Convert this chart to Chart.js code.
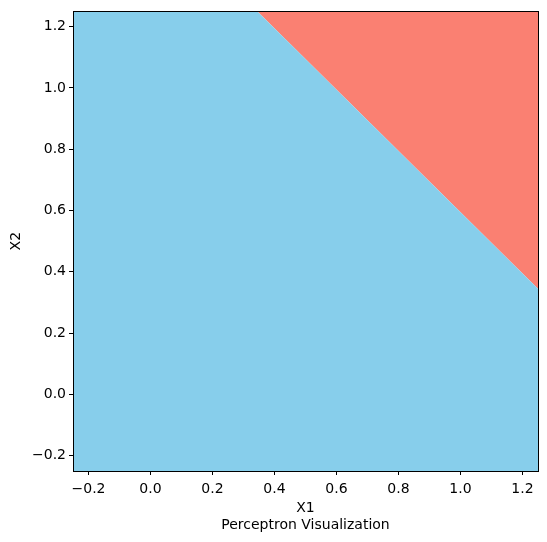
<!DOCTYPE html>
<html>
<head>
<meta charset="utf-8">
<script src="https://cdn.jsdelivr.net/npm/chart.js@4/dist/chart.umd.min.js"></script>
<style>
  html, body { margin: 0; padding: 0; background: #fff; }
  #wrap { width: 547px; height: 542px; }
</style>
</head>
<body>
<div id="wrap"><canvas id="chart"></canvas></div>
<script>
// decision boundary of the perceptron
const boundaryX = [-0.25, 0.345, 1.25];
const boundaryY = [1.25, 1.25, 0.345];

const tickValues = [-0.2, 0.0, 0.2, 0.4, 0.6, 0.8, 1.0, 1.2];
const axisMin = -0.25;
const axisMax = 1.25;

const boundary = boundaryX.map((x, i) => ({ x: x, y: boundaryY[i] }));

const fmt = v => v.toFixed(1).replace('-', '\u2212');

// matplotlib-like frame around the plot area
const framePlugin = {
  id: 'frame',
  afterDatasetsDraw(chart) {
    const { ctx, chartArea: a } = chart;
    ctx.save();
    ctx.strokeStyle = '#000';
    ctx.lineWidth = 1;
    ctx.strokeRect(Math.round(a.left) + 0.5, Math.round(a.top) + 0.5,
      Math.round(a.right - a.left), Math.round(a.bottom - a.top));
    ctx.restore();
  }
};

const font = { family: 'DejaVu Sans', size: 14 };

new Chart(document.getElementById('chart'), {
  type: 'scatter',
  data: {
    datasets: [
      {
        label: 'class 0',
        data: boundary,
        showLine: true,
        fill: 'start',
        backgroundColor: '#87CEEB',
        borderWidth: 0,
        pointRadius: 0,
        tension: 0
      },
      {
        label: 'class 1',
        data: boundary,
        showLine: true,
        fill: 'end',
        backgroundColor: '#FA8072',
        borderWidth: 0,
        pointRadius: 0,
        tension: 0
      }
    ]
  },
  options: {
    responsive: true,
    maintainAspectRatio: false,
    animation: false,
    layout: { padding: { top: 10, right: 9, left: 0, bottom: 0 } },
    plugins: {
      legend: { display: false },
      tooltip: { enabled: false }
    },
    scales: {
      x: {
        type: 'linear',
        min: axisMin,
        max: axisMax,
        afterBuildTicks: s => { s.ticks = tickValues.map(v => ({ value: v })); },
        afterFit: s => { s.height = 71; },
        grid: { display: true, drawOnChartArea: false, drawTicks: true, tickLength: 4, color: '#000' },
        border: { display: false },
        ticks: { color: '#000', font: font, padding: 6, maxRotation: 0, callback: v => fmt(v) },
        title: {
          display: true,
          text: ['X1', 'Perceptron Visualization'],
          color: '#000',
          font: { family: 'DejaVu Sans', size: 14, lineHeight: 1.15 },
          padding: { top: 2, bottom: 9 }
        }
      },
      y: {
        type: 'linear',
        min: axisMin,
        max: axisMax,
        afterBuildTicks: s => { s.ticks = tickValues.map(v => ({ value: v })); },
        afterFit: s => { s.width = 73; },
        grid: { display: true, drawOnChartArea: false, drawTicks: true, tickLength: 4, color: '#000' },
        border: { display: false },
        ticks: { color: '#000', font: font, padding: 3, callback: v => fmt(v) },
        title: {
          display: true,
          text: 'X2',
          color: '#000',
          font: font,
          padding: { top: 8, bottom: 0 }
        }
      }
    }
  },
  plugins: [framePlugin]
});
</script>
</body>
</html>
